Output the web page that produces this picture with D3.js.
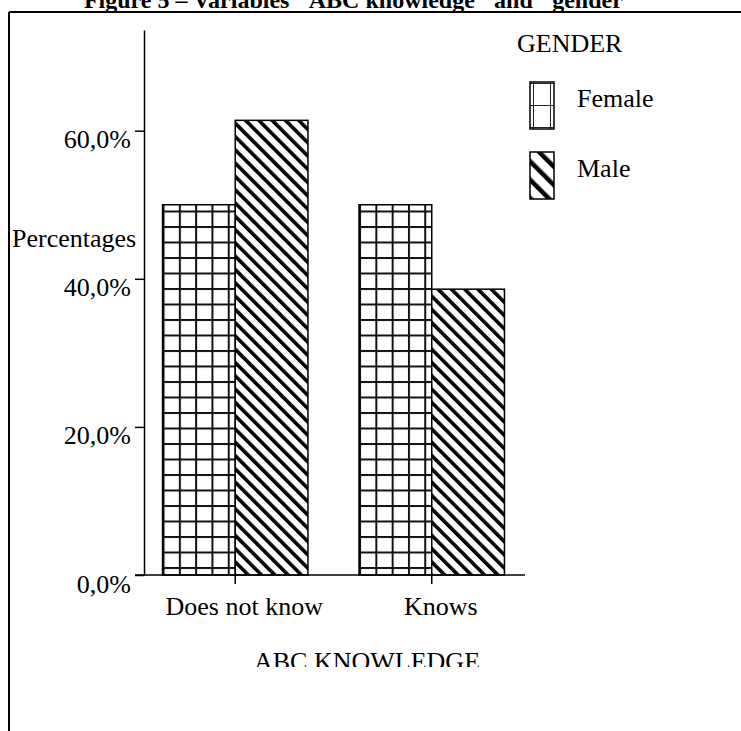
<!DOCTYPE html>
<html>

<head>
  <meta charset="utf-8">
  <title>ABC knowledge and gender</title>
  <script src="https://d3js.org/d3.v7.min.js"></script>
  <style>
    body {
      margin: 0;
      background: #fff;
    }

    svg text {
      font-family: "Liberation Serif", "Times New Roman", serif;
      fill: #000;
    }

    .bar {
      stroke: #000;
      stroke-width: 1.5px;
    }
  </style>
</head>

<body>
  <svg width="741" height="731"></svg>
  <script>
    const categories = ["Does not know", "Knows"];
    const genders = ["Female", "Male"];
    const femaleValues = [50.0, 50.0];
    const maleValues = [61.4, 38.6];
    const yTicks = [0, 20, 40, 60];

    const rows = categories.map((c, i) => ({
      category: c,
      values: [
        { gender: "Female", value: femaleValues[i] },
        { gender: "Male", value: maleValues[i] }
      ]
    }));

    const svg = d3.select("svg");
    const width = +svg.attr("width");
    const height = +svg.attr("height");

    const defs = svg.append("defs");

    // grid hatch for Female
    const grid = defs.append("pattern")
      .attr("id", "grid")
      .attr("patternUnits", "userSpaceOnUse")
      .attr("x", 163).attr("y", 567)
      .attr("width", 16.3).attr("height", 15.5);
    grid.append("rect").attr("width", 16.3).attr("height", 15.5).attr("fill", "#fff");
    grid.append("line").attr("x1", 0.9).attr("x2", 0.9).attr("y1", 0).attr("y2", 15.5)
      .attr("stroke", "#111").attr("stroke-width", 2.2);
    grid.append("line").attr("x1", 0).attr("x2", 16.3).attr("y1", 0.9).attr("y2", 0.9)
      .attr("stroke", "#111").attr("stroke-width", 2.2);

    // diagonal hatch for Male
    const diag = defs.append("pattern")
      .attr("id", "diag")
      .attr("patternUnits", "userSpaceOnUse")
      .attr("width", 9.4).attr("height", 9.4)
      .attr("patternTransform", "rotate(-45)");
    diag.append("rect").attr("width", 9.4).attr("height", 9.4).attr("fill", "#fff");
    diag.append("rect").attr("width", 3.6).attr("height", 9.4).attr("fill", "#000");

    // legend patterns (larger)
    const gridL = defs.append("pattern")
      .attr("id", "gridL")
      .attr("patternUnits", "userSpaceOnUse")
      .attr("x", 533).attr("y", 105)
      .attr("width", 17).attr("height", 22);
    gridL.append("rect").attr("width", 17).attr("height", 22).attr("fill", "#fff");
    gridL.append("line").attr("x1", 0).attr("x2", 0).attr("y1", 0).attr("y2", 22)
      .attr("stroke", "#222").attr("stroke-width", 2);
    gridL.append("line").attr("x1", 0).attr("x2", 17).attr("y1", 0).attr("y2", 0)
      .attr("stroke", "#222").attr("stroke-width", 2);

    const diagL = defs.append("pattern")
      .attr("id", "diagL")
      .attr("patternUnits", "userSpaceOnUse")
      .attr("x", 529).attr("y", 152)
      .attr("width", 13).attr("height", 13)
      .attr("patternTransform", "rotate(-45)");
    diagL.append("rect").attr("width", 13).attr("height", 13).attr("fill", "#fff");
    diagL.append("rect").attr("width", 4.5).attr("height", 13).attr("fill", "#000");

    const fills = { Female: "url(#grid)", Male: "url(#diag)" };
    const legendFills = { Female: "url(#gridL)", Male: "url(#diagL)" };

    // frame
    svg.append("line")
      .attr("x1", 9).attr("x2", width).attr("y1", 12).attr("y2", 12)
      .attr("stroke", "#000").attr("stroke-width", 2);
    svg.append("line")
      .attr("x1", 9).attr("x2", 9).attr("y1", 12).attr("y2", height)
      .attr("stroke", "#000").attr("stroke-width", 2);

    // title (cut off at top, as in the source)
    svg.append("text")
      .attr("x", 360).attr("y", 8)
      .attr("text-anchor", "middle")
      .style("font-weight", "bold")
      .style("font-size", "24px")
      .text("Figure 5 \u2013 Variables \"ABC knowledge\" and \"gender\"");

    // scales
    const y = d3.scaleLinear().domain([0, 73.6]).range([575, 30]);
    const x = d3.scaleBand().domain(categories).range([137, 530])
      .paddingInner(0.26).paddingOuter(0.13);
    const xs = d3.scaleBand().domain(genders).range([0, x.bandwidth()]);

    const locale = d3.formatLocale({ decimal: ",", thousands: ".", grouping: [3], currency: ["", ""] });
    const fmt = locale.format(".1f");

    // bars
    const groups = svg.append("g").selectAll("g")
      .data(rows)
      .enter().append("g")
      .attr("transform", d => `translate(${x(d.category)},0)`);

    groups.selectAll("rect")
      .data(d => d.values)
      .enter().append("rect")
      .attr("class", "bar")
      .attr("x", d => xs(d.gender))
      .attr("y", d => y(d.value))
      .attr("width", xs.bandwidth())
      .attr("height", d => y(0) - y(d.value))
      .attr("fill", d => fills[d.gender]);

    // y axis
    const yAxis = svg.append("g")
      .attr("transform", "translate(144,0)")
      .call(d3.axisLeft(y).tickValues(yTicks).tickSize(9).tickSizeOuter(0)
        .tickFormat(d => fmt(d) + "%"));
    yAxis.selectAll("path, line").attr("stroke", "#000").attr("stroke-width", 1.5);
    yAxis.selectAll("text")
      .attr("x", -13).attr("y", 17).attr("dy", null)
      .style("font-size", "26px")
      .style("font-family", "'Liberation Serif', 'Times New Roman', serif");

    // x axis
    const xAxis = svg.append("g");
    xAxis.append("line")
      .attr("x1", 135).attr("x2", 525).attr("y1", y(0)).attr("y2", y(0))
      .attr("stroke", "#000").attr("stroke-width", 1.5);
    xAxis.selectAll(".tick")
      .data(categories)
      .enter().append("line")
      .attr("x1", d => x(d) + x.bandwidth() / 2)
      .attr("x2", d => x(d) + x.bandwidth() / 2)
      .attr("y1", y(0)).attr("y2", y(0) + 9)
      .attr("stroke", "#000").attr("stroke-width", 1.5);
    xAxis.selectAll(".lbl")
      .data(categories)
      .enter().append("text")
      .attr("x", d => x(d) + x.bandwidth() / 2 + 9)
      .attr("y", 615)
      .attr("text-anchor", "middle")
      .style("font-size", "26px")
      .text(d => d);

    // axis titles
    svg.append("text")
      .attr("x", 12).attr("y", 247)
      .style("font-size", "26px")
      .text("Percentages");

    svg.append("clipPath").attr("id", "cut")
      .append("rect").attr("x", 0).attr("y", 0).attr("width", width).attr("height", 667);
    svg.append("text")
      .attr("x", 367).attr("y", 670)
      .attr("text-anchor", "middle")
      .attr("clip-path", "url(#cut)")
      .style("font-size", "26px")
      .text("ABC KNOWLEDGE");

    // legend
    svg.append("text")
      .attr("x", 517).attr("y", 52)
      .style("font-size", "26px")
      .text("GENDER");

    const legend = svg.append("g").selectAll("g")
      .data(genders)
      .enter().append("g")
      .attr("transform", (d, i) => `translate(0,${i * 70})`);
    legend.append("rect")
      .attr("x", 530).attr("y", 82)
      .attr("width", 24).attr("height", 47)
      .attr("fill", d => legendFills[d])
      .attr("stroke", "#000").attr("stroke-width", 1.5);
    legend.append("text")
      .attr("x", 577).attr("y", 107)
      .style("font-size", "26px")
      .text(d => d);
  </script>
</body>

</html>
